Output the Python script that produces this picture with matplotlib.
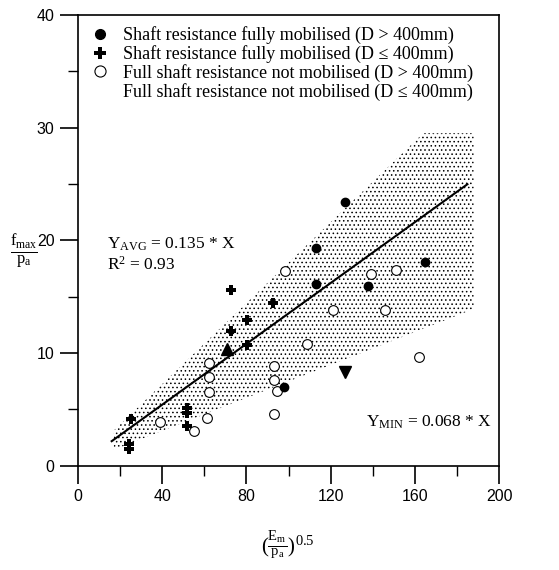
import numpy as np
import matplotlib
matplotlib.use("Agg")
import matplotlib.pyplot as plt
from matplotlib.lines import Line2D
from matplotlib.patches import Polygon

plt.rcParams['mathtext.fontset'] = 'custom'
plt.rcParams['mathtext.rm'] = 'Liberation Serif'
plt.rcParams['mathtext.it'] = 'Liberation Serif'
plt.rcParams['hatch.linewidth'] = 0.6

# ---- data ----
# shaft resistance fully mobilised, D > 400mm
full_big_x = [127, 113, 113, 138, 165, 98]
full_big_y = [23.4, 19.3, 16.1, 15.9, 18.1, 7.0]

# shaft resistance fully mobilised, D <= 400mm
full_small_x = [72.5, 72.5, 80.5, 92.5, 80.5, 52, 52, 52, 25, 24, 24]
full_small_y = [15.6, 11.9, 12.9, 14.4, 10.7, 5.1, 4.7, 3.5, 4.1, 1.9, 1.5]

# full shaft resistance not mobilised, D > 400mm
not_big_x = [98.5, 109, 121, 139, 151, 146, 162, 62, 62, 62, 61.5, 39, 55, 93, 93, 94.5, 93]
not_big_y = [17.3, 10.8, 13.8, 17.0, 17.4, 13.8, 9.6, 9.1, 7.9, 6.5, 4.2, 3.9, 3.1, 8.8, 7.6, 6.6, 4.6]

# triangles
tri_up_x, tri_up_y = [71], [10.3]
tri_dn_x, tri_dn_y = [127], [8.3]

# regression and scatter band
slope_avg = 0.135
line_x = [16, 185]
band_x = [17, 164, 188, 188, 17]
band_y = [3.1, 29.5, 29.5, 13.9, 1.4]

legend_labels = [
    'Shaft resistance fully mobilised (D > 400mm)',
    'Shaft resistance fully mobilised (D \u2264 400mm)',
    'Full shaft resistance not mobilised (D > 400mm)',
    'Full shaft resistance not mobilised (D \u2264 400mm)',
]

fig = plt.figure(figsize=(5.59, 5.70), dpi=100)
ax = fig.add_axes([78 / 559, 1 - 465.5 / 570, 421 / 559, 450.5 / 570])

band = Polygon(np.column_stack([band_x, band_y]), closed=True, facecolor='none',
               edgecolor='black', hatch='....', linewidth=0, zorder=1)
ax.add_patch(band)

lx = np.array(line_x)
ax.plot(lx, slope_avg * lx, color='black', linewidth=1.5, zorder=2)

ax.plot(full_big_x, full_big_y, 'o', color='black', markersize=6, zorder=4)
ax.plot(full_small_x, full_small_y, 'P', color='black', markersize=7, markeredgewidth=0, zorder=4)
ax.plot(not_big_x, not_big_y, 'o', markerfacecolor='white', markeredgecolor='black',
        markersize=7, markeredgewidth=0.8, zorder=3)
ax.plot(tri_up_x, tri_up_y, '^', color='black', markersize=9, zorder=4)
ax.plot(tri_dn_x, tri_dn_y, 'v', color='black', markersize=9, zorder=4)

handles = [
    Line2D([], [], ls='none', marker='o', color='black', markersize=7),
    Line2D([], [], ls='none', marker='P', color='black', markersize=8, markeredgewidth=0),
    Line2D([], [], ls='none', marker='o', markerfacecolor='white', markeredgecolor='black',
           markersize=8, markeredgewidth=0.8),
    Line2D([], [], ls='none', marker=None),
]
ax.legend(handles, legend_labels, loc='upper left', bbox_to_anchor=(0.031, 0.975),
          frameon=False, handlelength=1.0, handletextpad=0.78, labelspacing=0.05,
          borderpad=0, borderaxespad=0,
          prop={'family': 'Liberation Serif', 'size': 13})

ax.text(14, 19.6, r'Y$_{\mathrm{AVG}}$ = 0.135 * X', fontsize=12.5,
        family='Liberation Serif', va='center')
ax.text(14, 17.8, r'R$^{2}$ = 0.93', fontsize=12.5, family='Liberation Serif', va='center')
ax.text(137, 3.8, r'Y$_{\mathrm{MIN}}$ = 0.068 * X', fontsize=12.5,
        family='Liberation Serif', va='center')

ax.set_xlim(0, 200)
ax.set_ylim(0, 40)
ax.set_xticks(np.arange(0, 201, 40))
ax.set_xticks(np.arange(20, 200, 40), minor=True)
ax.set_yticks(np.arange(0, 41, 10))
ax.set_yticks(np.arange(5, 40, 10), minor=True)
ax.tick_params(which='major', direction='out', length=13, width=1.2,
               labelsize=11.5, pad=4)
ax.tick_params(which='minor', direction='out', length=7, width=1)
for lab in ax.get_xticklabels() + ax.get_yticklabels():
    lab.set_family('Liberation Sans')
for s in ax.spines.values():
    s.set_linewidth(1.2)

fig.text(24 / 559, 1 - 252 / 570, r'$\frac{\mathrm{f}_{\mathrm{max}}}{\mathrm{p}_{\mathrm{a}}}$',
         fontsize=17, ha='center', va='center')
fig.text(288 / 559, 1 - 545 / 570, r'$(\frac{\mathrm{E}_{\mathrm{m}}}{\mathrm{p}_{\mathrm{a}}})^{0.5}$',
         fontsize=15, ha='center', va='center')

fig.savefig('out.png', dpi=100)
